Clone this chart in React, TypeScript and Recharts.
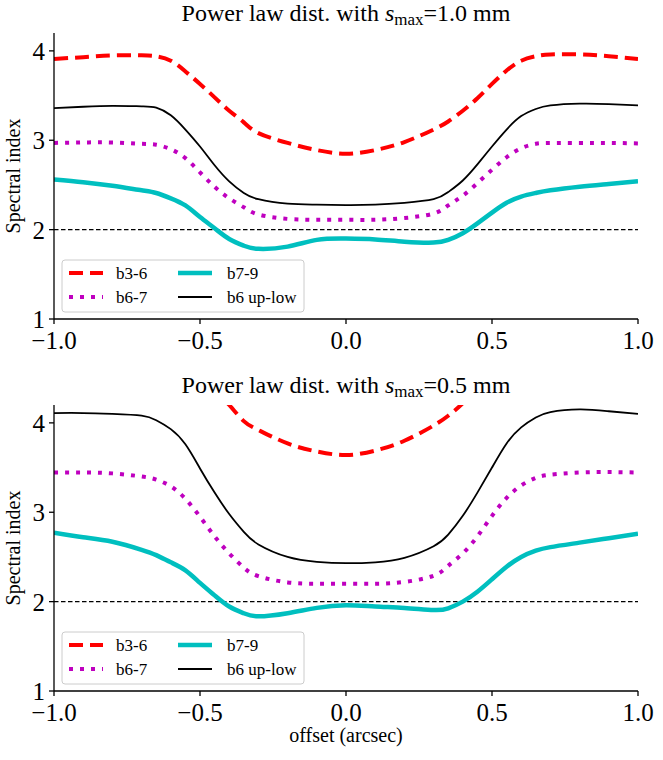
import React from 'react';
import { LineChart, Line, XAxis, YAxis, ReferenceLine, Customized } from 'recharts';

// ---------- data ----------
const offsets = [-1, -0.9, -0.8, -0.7, -0.65, -0.6, -0.55, -0.5, -0.45, -0.4, -0.35, -0.3, -0.2, -0.1, 0, 0.1, 0.2, 0.3, 0.35, 0.4, 0.45, 0.5, 0.55, 0.6, 0.65, 0.7, 0.8, 0.9, 1.0];

// panel 1: s_max = 1.0 mm
const top_b36 = [3.91, 3.93, 3.95, 3.95, 3.94, 3.89, 3.77, 3.63, 3.48, 3.33, 3.2, 3.08, 2.97, 2.89, 2.85, 2.89, 2.98, 3.12, 3.21, 3.33, 3.47, 3.63, 3.78, 3.89, 3.94, 3.96, 3.96, 3.94, 3.91];
const top_b67 = [2.97, 2.975, 2.975, 2.96, 2.95, 2.9, 2.8, 2.64, 2.48, 2.35, 2.25, 2.17, 2.12, 2.11, 2.11, 2.11, 2.13, 2.18, 2.27, 2.38, 2.52, 2.67, 2.81, 2.91, 2.96, 2.97, 2.97, 2.97, 2.965];
const top_b79 = [2.56, 2.53, 2.49, 2.44, 2.41, 2.35, 2.27, 2.14, 2.015, 1.895, 1.82, 1.785, 1.81, 1.885, 1.9, 1.89, 1.865, 1.855, 1.885, 1.96, 2.07, 2.19, 2.3, 2.37, 2.41, 2.44, 2.48, 2.51, 2.54];
const top_b6ul = [3.36, 3.375, 3.385, 3.38, 3.365, 3.28, 3.12, 2.93, 2.72, 2.54, 2.41, 2.34, 2.29, 2.28, 2.275, 2.28, 2.3, 2.34, 2.42, 2.55, 2.73, 2.93, 3.12, 3.27, 3.35, 3.39, 3.41, 3.405, 3.39];

// panel 2: s_max = 0.5 mm
const bot_b36 = [5.3, 5.3, 5.25, 5.15, 5.05, 4.9, 4.75, 4.55, 4.37, 4.2, 4.02, 3.92, 3.77, 3.68, 3.64, 3.69, 3.8, 3.97, 4.08, 4.22, 4.4, 4.58, 4.76, 4.92, 5.06, 5.16, 5.26, 5.3, 5.3];
const bot_b67 = [3.445, 3.445, 3.435, 3.4, 3.365, 3.29, 3.15, 2.95, 2.73, 2.54, 2.38, 2.285, 2.215, 2.2, 2.2, 2.2, 2.22, 2.29, 2.4, 2.54, 2.73, 2.96, 3.16, 3.3, 3.385, 3.42, 3.445, 3.45, 3.445];
const bot_b79 = [2.77, 2.72, 2.67, 2.58, 2.52, 2.44, 2.35, 2.21, 2.07, 1.945, 1.87, 1.835, 1.87, 1.93, 1.96, 1.945, 1.93, 1.906, 1.925, 2.0, 2.11, 2.25, 2.39, 2.5, 2.57, 2.61, 2.66, 2.71, 2.76];
const bot_b6ul = [4.11, 4.11, 4.1, 4.08, 4.03, 3.93, 3.76, 3.49, 3.22, 2.98, 2.78, 2.64, 2.5, 2.445, 2.43, 2.44, 2.49, 2.62, 2.75, 2.96, 3.22, 3.5, 3.77, 3.95, 4.06, 4.12, 4.15, 4.13, 4.1];

const xTicks = [-1, -0.5, 0, 0.5, 1];
const yTicks = [1, 2, 3, 4];
const seriesNames = ['b3-6', 'b6-7', 'b7-9', 'b6 up-low'];
const panelTitles = ['1.0', '0.5'];
const yLabel = 'Spectral index';
const xLabel = 'offset (arcsec)';

// ---------- styles ----------
const FONT = 'Liberation Serif, Times New Roman, DejaVu Serif, serif';
const RED = '#ff0000';
const MAG = '#bf00bf';
const CYAN = '#00bfbf';
const BLK = '#000000';

const styles: Record<string, { stroke: string; width: number; dash?: string }> = {
  b36: { stroke: RED, width: 4, dash: '14 7' },
  b67: { stroke: MAG, width: 4, dash: '4 7' },
  b79: { stroke: CYAN, width: 4.5 },
  b6ul: { stroke: BLK, width: 1.8 },
};

function buildRows(a: number[], b: number[], c: number[], d: number[]) {
  return offsets.map((x, i) => ({ x, b36: a[i], b67: b[i], b79: c[i], b6ul: d[i] }));
}

const topRows = buildRows(top_b36, top_b67, top_b79, top_b6ul);
const botRows = buildRows(bot_b36, bot_b67, bot_b79, bot_b6ul);

const fmt = (v: number) => {
  const s = Math.abs(v).toFixed(1);
  return v < 0 ? '\u2212' + s : s;
};

const txt = (size: number): React.CSSProperties => ({ fontFamily: FONT, fontSize: size });

function Title({ smax }: { smax: string }) {
  return (
    <text x={346} y={21} textAnchor="middle" style={txt(24)} fill="#000">
      {'Power law dist. with '}
      <tspan fontStyle="italic">s</tspan>
      <tspan style={{ fontSize: 17 }} dy={4}>max</tspan>
      <tspan dy={-4}>{'=' + smax + ' mm'}</tspan>
    </text>
  );
}

function YLab() {
  return (
    <text x={20} y={176} transform="rotate(-90 20 176)" textAnchor="middle" style={txt(20)} fill="#000">
      {yLabel}
    </text>
  );
}

function XLab() {
  return (
    <text x={346} y={370} textAnchor="middle" style={txt(20)} fill="#000">
      {xLabel}
    </text>
  );
}

function LegendBox() {
  const bx = 62;
  const by = 260;
  const keys = ['b36', 'b67', 'b79', 'b6ul'];
  const cols = [0, 0, 1, 1];
  const rowsIdx = [0, 1, 0, 1];
  return (
    <g>
      <rect x={bx} y={by} width={242} height={52} rx={3} ry={3} fill="#fff" fillOpacity={0.8} stroke="#cccccc" strokeWidth={1} />
      {keys.map((k, i) => {
        const st = styles[k];
        const hx = bx + (cols[i] === 0 ? 7 : 116);
        const tx = bx + (cols[i] === 0 ? 54 : 165);
        const cy = by + (rowsIdx[i] === 0 ? 13 : 37);
        return (
          <g key={k}>
            <line x1={hx} x2={hx + 34} y1={cy} y2={cy} stroke={st.stroke} strokeWidth={st.width} strokeDasharray={st.dash} />
            <text x={tx} y={cy + 6} style={txt(17)} fill="#000">{seriesNames[i]}</text>
          </g>
        );
      })}
    </g>
  );
}

function Panel({ rows, smax, height, marginBottom, showXLabel }: { rows: any[]; smax: string; height: number; marginBottom: number; showXLabel: boolean }) {
  const tickStyle = { fill: '#000', fontSize: 25, fontFamily: FONT, style: { fontFamily: FONT } };
  return (
    <LineChart width={663} height={height} data={rows} margin={{ top: 33, right: 25, bottom: marginBottom, left: 14 }}>
      <XAxis
        dataKey="x"
        type="number"
        domain={[-1, 1]}
        allowDataOverflow
        ticks={xTicks}
        tickFormatter={fmt}
        height={30}
        tickSize={5}
        tickMargin={7}
        stroke="#000"
        strokeWidth={1.3}
        tick={tickStyle}
        interval={0}
      />
      <XAxis xAxisId="top" orientation="top" dataKey="x" type="number" domain={[-1, 1]} allowDataOverflow tick={false} tickLine={false} height={0} stroke="#000" strokeWidth={1.3} />
      <YAxis
        type="number"
        domain={[1, 4.2]}
        allowDataOverflow
        ticks={yTicks}
        width={40}
        tickSize={5}
        tickMargin={4}
        stroke="#000"
        strokeWidth={1.3}
        tick={tickStyle}
        interval={0}
      />
      <YAxis yAxisId="right" orientation="right" type="number" domain={[1, 4.2]} allowDataOverflow tick={false} tickLine={false} width={0} stroke="#000" strokeWidth={1.3} />
      <ReferenceLine y={2} stroke="#000" strokeWidth={1.3} strokeDasharray="4.5 2.5" />
      {(['b36', 'b67', 'b79', 'b6ul'] as const).map((k, i) => (
        <Line
          key={k}
          dataKey={k}
          name={seriesNames[i]}
          type="natural"
          stroke={styles[k].stroke}
          strokeWidth={styles[k].width}
          strokeDasharray={styles[k].dash}
          dot={false}
          activeDot={false}
          isAnimationActive={false}
        />
      ))}
      <Customized component={<Title smax={smax} />} />
      <Customized component={<YLab />} />
      {showXLabel ? <Customized component={<XLab />} /> : null}
      <Customized component={<LegendBox />} />
    </LineChart>
  );
}

export default function App() {
  return (
    <div style={{ position: 'absolute', left: 0, top: 0, width: 663, height: 760, background: '#fff' }}>
      <div style={{ position: 'absolute', left: 0, top: 0 }}>
        <Panel rows={topRows} smax={panelTitles[0]} height={360} marginBottom={11} showXLabel={false} />
      </div>
      <div style={{ position: 'absolute', left: 0, top: 372 }}>
        <Panel rows={botRows} smax={panelTitles[1]} height={388} marginBottom={39} showXLabel={true} />
      </div>
    </div>
  );
}
